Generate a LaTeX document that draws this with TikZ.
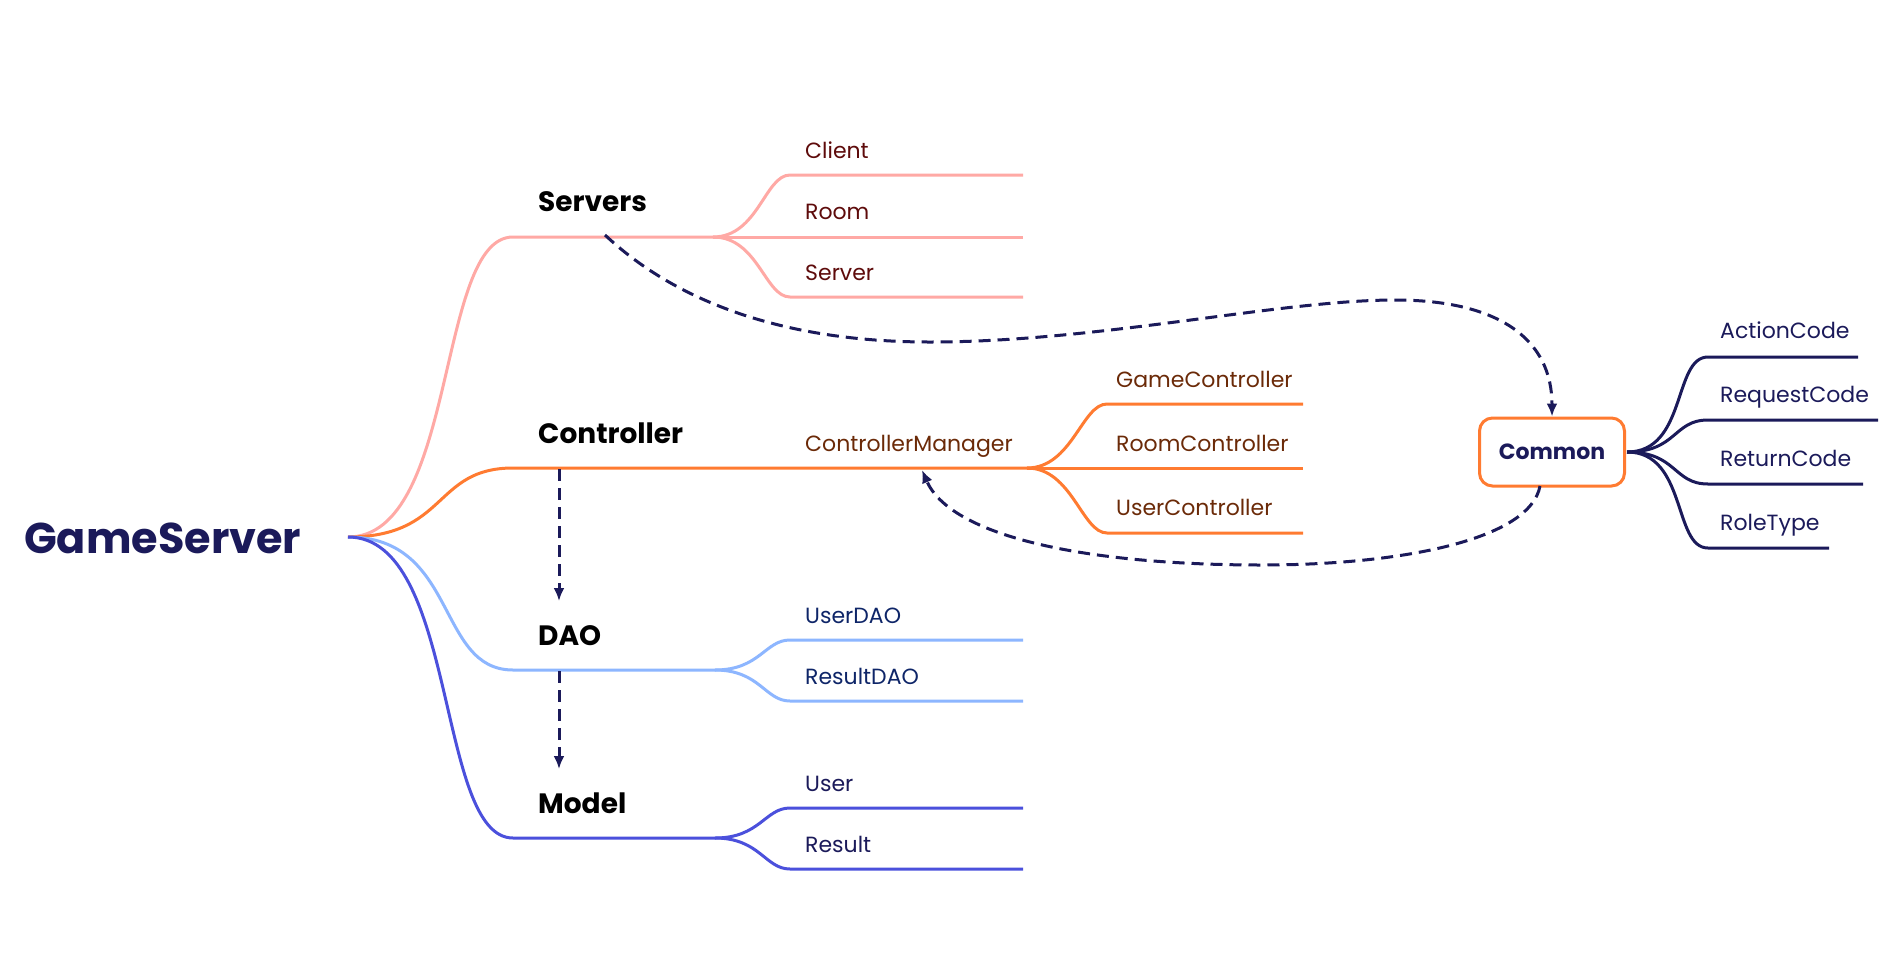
\documentclass[tikz,border=0pt]{standalone}
\usepackage{fontspec}
\setmainfont{Poppins}
\usetikzlibrary{arrows.meta}
\definecolor{pinkc}{HTML}{FFA9A5}
\definecolor{orangec}{HTML}{FF7B31}
\definecolor{lblue}{HTML}{8DB6FF}
\definecolor{bluec}{HTML}{4B50DC}
\definecolor{navy}{HTML}{1B1A5A}
\definecolor{dred}{HTML}{5E0B0B}
\definecolor{brownc}{HTML}{6B2A08}
\definecolor{dblue}{HTML}{0E2568}
\begin{document}
\begin{tikzpicture}[x=1pt,y=-1pt,
  br/.style={line width=3pt},
  mainlbl/.style={anchor=base west,inner sep=0pt,font=\fontsize{28}{32}\selectfont\bfseries,text=black},
  sublbl/.style={anchor=base west,inner sep=0pt,font=\fontsize{22}{26}\selectfont},
  dep/.style={navy,line width=3pt,dash pattern=on 12pt off 7pt,-{Latex[length=13pt,width=11pt]}},
  hub/.style={draw=orangec,line width=3pt,rounded corners=13pt,minimum width=145pt,minimum height=68pt,inner sep=0pt,font=\fontsize{22}{26}\selectfont\bfseries,text=navy}]
\useasboundingbox (0,0) rectangle (1892,964);
\fill[white] (0,0) rectangle (1892,964);

% root
\coordinate (root) at (348,537);
\node[anchor=base west,inner sep=0pt,font=\fontsize{43}{50}\selectfont\bfseries,text=navy] (gs) at (24,553) {GameServer};

% ---------- Servers ----------
\coordinate (s0) at (513,237);
\coordinate (ss) at (713,237);
\coordinate (s1a) at (790,175); \coordinate (s1b) at (1023,175);
\coordinate (s2b) at (1023,237);
\coordinate (s3a) at (790,297); \coordinate (s3b) at (1023,297);
\draw[br,pinkc] (root) .. controls +(110,0) and +(-77,0) .. (s0) -- (ss);
\draw[br,pinkc] (ss) .. controls +(45,0) and +(-25,0) .. (s1a) -- (s1b);
\draw[br,pinkc] (ss) -- (s2b);
\draw[br,pinkc] (ss) .. controls +(45,0) and +(-25,0) .. (s3a) -- (s3b);
\node[mainlbl] (servers) at (538,211) {Servers};
\node[sublbl,text=dred] (client) at (805,158) {Client};
\node[sublbl,text=dred] (room) at (805,219) {Room};
\node[sublbl,text=dred] (server) at (805,280) {Server};

% ---------- Controller ----------
\coordinate (c0) at (513,468);
\coordinate (cs) at (1027,468);
\coordinate (c1a) at (1107,404); \coordinate (c1b) at (1303,404);
\coordinate (c2b) at (1303,468);
\coordinate (c3a) at (1107,533); \coordinate (c3b) at (1303,533);
\draw[br,orangec] (root) .. controls +(100,0) and +(-80,0) .. (c0) -- (cs);
\draw[br,orangec] (cs) .. controls +(45,0) and +(-25,0) .. (c1a) -- (c1b);
\draw[br,orangec] (cs) -- (c2b);
\draw[br,orangec] (cs) .. controls +(45,0) and +(-25,0) .. (c3a) -- (c3b);
\node[mainlbl] (controller) at (538,443) {Controller};
\node[sublbl,text=brownc] (cmgr) at (805,451) {ControllerManager};
\node[sublbl,text=brownc] (gamec) at (1116,387) {GameController};
\node[sublbl,text=brownc] (roomc) at (1116,451) {RoomController};
\node[sublbl,text=brownc] (userc) at (1116,515) {UserController};

% ---------- DAO ----------
\coordinate (d0) at (513,670);
\coordinate (ds) at (715,670);
\coordinate (d1a) at (790,640); \coordinate (d1b) at (1023,640);
\coordinate (d2a) at (790,701); \coordinate (d2b) at (1023,701);
\draw[br,lblue] (root) .. controls +(110,0) and +(-77,0) .. (d0) -- (ds);
\draw[br,lblue] (ds) .. controls +(45,0) and +(-25,0) .. (d1a) -- (d1b);
\draw[br,lblue] (ds) .. controls +(45,0) and +(-25,0) .. (d2a) -- (d2b);
\node[mainlbl] (dao) at (538,645) {DAO};
\node[sublbl,text=dblue] (userdao) at (805,623) {UserDAO};
\node[sublbl,text=dblue] (resultdao) at (805,684) {ResultDAO};

% ---------- Model ----------
\coordinate (m0) at (513,838);
\coordinate (ms) at (715,838);
\coordinate (m1a) at (790,808); \coordinate (m1b) at (1023,808);
\coordinate (m2a) at (790,869); \coordinate (m2b) at (1023,869);
\draw[br,bluec] (root) .. controls +(110,0) and +(-77,0) .. (m0) -- (ms);
\draw[br,bluec] (ms) .. controls +(45,0) and +(-25,0) .. (m1a) -- (m1b);
\draw[br,bluec] (ms) .. controls +(45,0) and +(-25,0) .. (m2a) -- (m2b);
\node[mainlbl] (model) at (538,813) {Model};
\node[sublbl,text=navy] (user) at (805,791) {User};
\node[sublbl,text=navy] (result) at (805,852) {Result};

% ---------- Common ----------
\node[hub] (common) at (1552,452) {Common};
\coordinate (k0) at (1627,452);
\coordinate (k1a) at (1708,357); \coordinate (k1b) at (1858,357);
\coordinate (k2a) at (1708,420); \coordinate (k2b) at (1878,420);
\coordinate (k3a) at (1708,484); \coordinate (k3b) at (1863,484);
\coordinate (k4a) at (1708,548); \coordinate (k4b) at (1829,548);
\draw[br,navy] (k0) .. controls +(60,0) and +(-35,0) .. (k1a) -- (k1b);
\draw[br,navy] (k0) .. controls +(50,0) and +(-35,0) .. (k2a) -- (k2b);
\draw[br,navy] (k0) .. controls +(50,0) and +(-35,0) .. (k3a) -- (k3b);
\draw[br,navy] (k0) .. controls +(60,0) and +(-35,0) .. (k4a) -- (k4b);
\node[sublbl,text=navy] (action) at (1720,338) {ActionCode};
\node[sublbl,text=navy] (request) at (1720,402) {RequestCode};
\node[sublbl,text=navy] (return) at (1720,466) {ReturnCode};
\node[sublbl,text=navy] (role) at (1720,530) {RoleType};

% ---------- dependencies ----------
\coordinate (sdep) at (605,235);
\draw[dep] (sdep) .. controls (685,310) and (800,342) .. (930,342)
  .. controls (1100,342) and (1280,300) .. (1395,300)
  .. controls (1500,300) and (1552,340) .. (common.north);
\coordinate (cbot) at (1540,486);
\coordinate (cmgrpt) at (922,470);
\draw[dep] (cbot) .. controls (1530,540) and (1400,565) .. (1262,565)
  .. controls (1080,565) and (950,535) .. (cmgrpt);
\coordinate (ctop) at (559,469);
\coordinate (daotop) at (559,601);
\coordinate (daobot) at (559,671);
\coordinate (modeltop) at (559,769);
\draw[dep] (ctop) -- (daotop);
\draw[dep] (daobot) -- (modeltop);
\end{tikzpicture}
\end{document}
